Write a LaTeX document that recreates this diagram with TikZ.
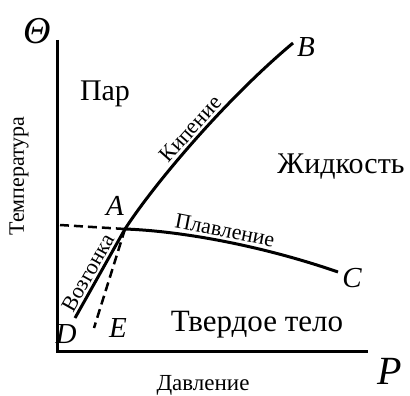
\documentclass[tikz,border=0pt]{standalone}
\usepackage{fontspec}
\setmainfont{Liberation Serif}
\usetikzlibrary{positioning}
\begin{document}
\begin{tikzpicture}[x=1pt,y=-1pt,line width=3pt,
  lbl/.style={inner sep=2pt,font=\fontsize{22}{24}\selectfont},
  phase/.style={inner sep=0pt,font=\fontsize{30}{32}\selectfont},
  pnt/.style={inner sep=0pt,font=\fontsize{29}{31}\selectfont\itshape},
  dsh/.style={line width=2.5pt,dash pattern=on 9pt off 5pt}]
\useasboundingbox (0,0) rectangle (410,396);
% points of the diagram
\coordinate (top) at (57,40);
\coordinate (O) at (57,351);
\coordinate (right) at (368,351);
\coordinate (A) at (125,229);
\coordinate (B) at (293,43);
\coordinate (C) at (338,272);
\coordinate (D) at (75,318);
\coordinate (E) at (94,328);
\coordinate (left) at (60,225);
% axes and curves
\draw (top) -- (O) -- (right);
\draw (D) -- node[lbl,sloped,above,pos=0.45] (subl) {Возгонка} (A)
  .. controls (155,183) and (225,100) .. node[lbl,sloped,above,pos=0.52] (boil) {Кипение} (B);
\draw (A) .. controls (180,231) and (260,245) .. node[lbl,sloped,above,pos=0.5] (melt) {Плавление} (C);
\draw[dsh] (left) -- (A);
\draw[dsh] (A) -- (E);
% labels
\node[inner sep=0pt,font=\fontsize{38}{40}\selectfont\itshape] (theta) at (37,31) {Θ};
\node[inner sep=0pt,font=\fontsize{40}{42}\selectfont\itshape] (p) at (390,371) {P};
\node[pnt] (a) at (115,206) {A};
\node[pnt] (b) at (306,47) {B};
\node[pnt] (c) at (352,278) {C};
\node[pnt] (d) at (66,334) {D};
\node[pnt] (e) at (118,328) {E};
\node[phase] (vap) at (105,94) {Пар};
\node[phase] (liq) at (341,167) {Жидкость};
\node[phase,font=\fontsize{31}{33}\selectfont] (sol) at (257,325) {Твердое тело};
\node[lbl,rotate=90] (temp) at (19,176) {Температура};
\node[lbl,font=\fontsize{23}{25}\selectfont] (pres) at (203,385) {Давление};
\end{tikzpicture}
\end{document}
